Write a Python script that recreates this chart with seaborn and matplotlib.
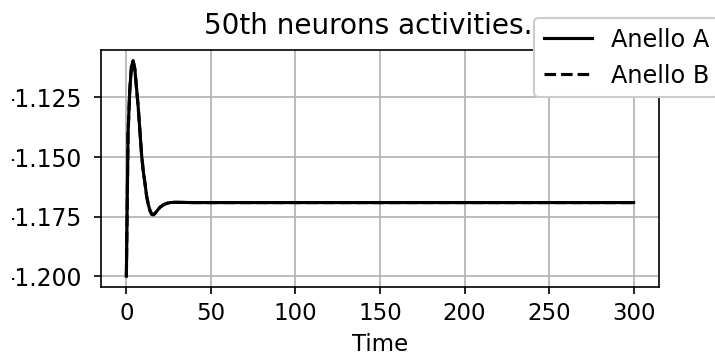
import matplotlib
matplotlib.use("Agg")
import matplotlib.pyplot as plt
from matplotlib.transforms import Bbox, TransformedBbox
import seaborn as sns
import pandas as pd

time = [0, 1, 2, 3, 4, 5, 6, 7, 8, 9, 10, 11, 12, 13, 14, 15, 16, 17, 18, 19,
        20, 22, 24, 26, 28, 30, 40, 60, 100, 150, 200, 250, 300]
anello_a = [-1.2000, -1.1400, -1.1220, -1.1120, -1.1096, -1.1130, -1.1210,
            -1.1290, -1.1390, -1.1490, -1.1560, -1.1610, -1.1665, -1.1700,
            -1.1725, -1.1740, -1.1742, -1.1736, -1.1727, -1.1718, -1.1710,
            -1.1700, -1.1694, -1.1691, -1.1690, -1.1690, -1.1691, -1.1691,
            -1.1691, -1.1691, -1.1691, -1.1691, -1.1691]
anello_b = list(anello_a)
labels = ["Anello A", "Anello B"]

df = pd.DataFrame({"Time": time * 2,
                   "value": anello_a + anello_b,
                   "series": [labels[0]] * len(time) + [labels[1]] * len(time)})

plt.rcParams["font.family"] = ["DejaVu Sans"]
plt.rcParams["font.size"] = 11
plt.rcParams["axes.unicode_minus"] = False

fig = plt.figure(figsize=(715 / 150, 361 / 150), dpi=150)
ax = fig.add_axes([101 / 715, 1 - 287 / 361, (659 - 101) / 715, (287 - 50) / 361])

sns.lineplot(data=df[df.series == labels[0]], x="Time", y="value", color="black",
             linewidth=1.5, label=labels[0], ax=ax)
sns.lineplot(data=df[df.series == labels[1]], x="Time", y="value", color="black",
             linewidth=1.5, linestyle="--", label=labels[1], ax=ax)

ax.set_xlabel("Time", fontsize=11)
ax.set_ylabel("")
ax.set_title("50th neurons activities.", fontsize=13.4, x=0.4785, pad=7.7)
ax.grid(True, color="#b0b0b0", linewidth=0.8)
ax.set_yticks([-1.2, -1.175, -1.15, -1.125])
ax.set_xticks([0, 50, 100, 150, 200, 250, 300])
ax.tick_params(labelsize=11)
ax.tick_params(axis="y", pad=5.4, labelsize=11.3)

ax.legend(loc="upper left", bbox_to_anchor=(534 / 715, 1 - 18 / 361),
          bbox_transform=fig.transFigure, borderaxespad=0, fontsize=11.5,
          framealpha=1.0)

# the reference image is cropped just left of the y tick labels
clip = TransformedBbox(Bbox([[12 / 715, 0], [1, 1]]), fig.transFigure)
for lab in ax.get_yticklabels():
    lab.set_clip_box(clip)
    lab.set_clip_on(True)

fig.savefig("out.png", dpi=150)
